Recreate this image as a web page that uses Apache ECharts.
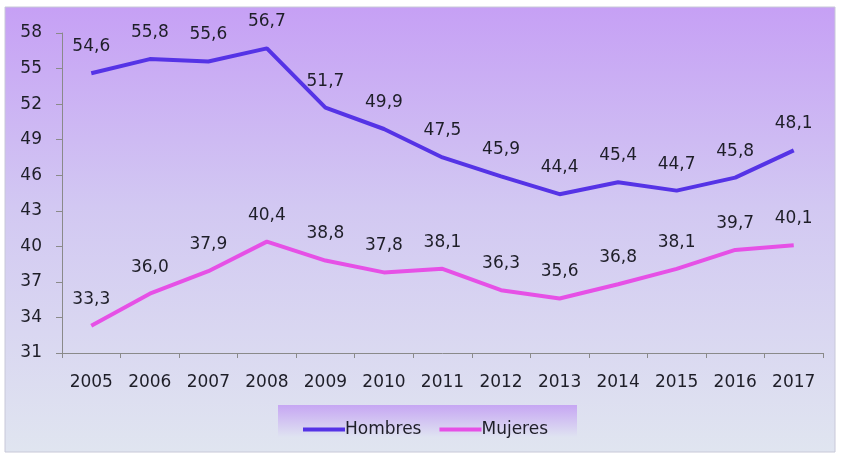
<!DOCTYPE html>
<html><head><meta charset="utf-8">
<script src="https://cdn.jsdelivr.net/npm/echarts@6/dist/echarts.min.js"></script>
<style>html,body{margin:0;padding:0;background:#fff}#c{width:841px;height:453px}</style>
</head><body><div id="c"></div>
<script>
const years = ['2005','2006','2007','2008','2009','2010','2011','2012','2013','2014','2015','2016','2017'];
const hombres = [54.6,55.8,55.6,56.7,51.7,49.9,47.5,45.9,44.4,45.4,44.7,45.8,48.1];
const mujeres = [33.3,36.0,37.9,40.4,38.8,37.8,38.1,36.3,35.6,36.8,38.1,39.7,40.1];
const yMin = 31, yMax = 58, yStep = 3;
const cH = '#5533e6', cM = '#e650e6';

const chart = echarts.init(document.getElementById('c'), null, {renderer:'canvas'});
const FONT = 'DejaVu Sans';
const TXT = '#1e1e28';
const fmt = p => p.value.toFixed(1).replace('.', ',');
function series(name, data, color){
  return {
    name, type:'line', data,
    symbol:'circle', symbolSize:2,
    itemStyle:{color:color, opacity:0},
    lineStyle:{color:color, width:4},
    emphasis:{disabled:true},
    label:{show:true, position:'top', distance:17, formatter:fmt,
      color:TXT, fontFamily:FONT, fontSize:17, opacity:1}
  };
}
chart.setOption({
  animation:false,
  graphic:[
    {type:'rect', z:-10, shape:{x:5,y:7,width:830,height:445},
     style:{fill:new echarts.graphic.LinearGradient(0,0,0,1,[
       {offset:0,color:'#c6a0f5'},{offset:0.45,color:'#d2c8f2'},{offset:1,color:'#e0e5f0'}]),
       stroke:'#c8c8d8', lineWidth:1}},
    {type:'rect', z:-5, shape:{x:278,y:405,width:299,height:32},
     style:{fill:new echarts.graphic.LinearGradient(0,0,0,1,[
       {offset:0,color:'#c6a6f3'},{offset:1,color:'#dfe3f1'}])}}
  ],
  grid:{left:62, right:18, top:33, bottom:100},
  legend:{
    left:298, top:416, itemWidth:42, itemHeight:4, itemGap:18, icon:'rect',
    textStyle:{fontFamily:FONT, fontSize:17, color:TXT, padding:[0,0,0,-5]},
    data:[{name:'Hombres', itemStyle:{color:cH, opacity:1}},
          {name:'Mujeres', itemStyle:{color:cM, opacity:1}}]
  },
  xAxis:{
    type:'category', data:years, boundaryGap:true,
    axisLine:{lineStyle:{color:'#8a8a8a', width:1}},
    axisTick:{show:true, alignWithLabel:false, length:5, lineStyle:{color:'#8a8a8a'}},
    axisLabel:{fontFamily:FONT, fontSize:17, color:TXT, margin:21}
  },
  yAxis:{
    type:'value', min:yMin, max:yMax, interval:yStep,
    axisLine:{show:true, lineStyle:{color:'#8a8a8a', width:1}},
    axisTick:{show:true, length:6, lineStyle:{color:'#8a8a8a'}},
    splitLine:{show:false},
    axisLabel:{fontFamily:FONT, fontSize:17, color:TXT, margin:20}
  },
  series:[ series('Hombres', hombres, cH), series('Mujeres', mujeres, cM) ]
});
</script></body></html>
